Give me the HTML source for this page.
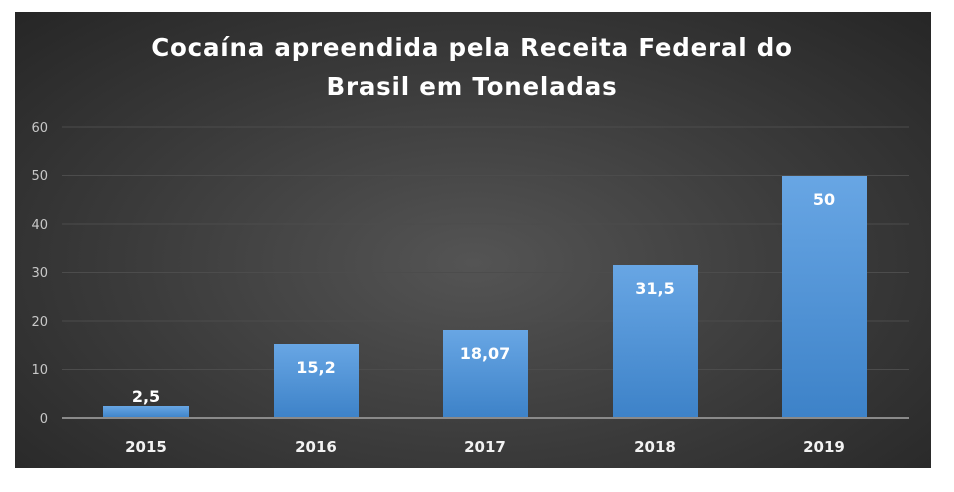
<!DOCTYPE html>
<html><head><style>
body{margin:0;background:#fff;width:954px;height:492px;position:relative;overflow:hidden;font-family:"DejaVu Sans","Liberation Sans",sans-serif}
#c{position:absolute;left:15px;top:12px;width:916px;height:456px;background:radial-gradient(ellipse at 50% 55%,#545454 0%,#3a3a3a 55%,#262626 100%)}
</style></head><body>
<div id="c"></div>
<svg width="954" height="492" style="position:absolute;left:0;top:0">
<defs><linearGradient id="g" x1="0" y1="0" x2="0" y2="1"><stop offset="0" stop-color="#68a6e4"/><stop offset="1" stop-color="#3d82c8"/></linearGradient></defs>
<g stroke="#4c4c4c" stroke-width="1">
<line x1="62" x2="909" y1="127" y2="127"/><line x1="62" x2="909" y1="175.5" y2="175.5"/><line x1="62" x2="909" y1="224" y2="224"/><line x1="62" x2="909" y1="272.5" y2="272.5"/><line x1="62" x2="909" y1="321" y2="321"/><line x1="62" x2="909" y1="369.5" y2="369.5"/>
</g>
<g fill="url(#g)">
<rect x="103" y="406" width="86" height="12"/>
<rect x="274" y="344" width="85" height="74"/>
<rect x="443" y="330" width="85" height="88"/>
<rect x="613" y="265" width="85" height="153"/>
<rect x="782" y="176" width="85" height="242"/>
</g>
<line x1="62" x2="909" y1="418" y2="418" stroke="#8a8a8a" stroke-width="2"/>
<g fill="#c8c8c8" font-size="13" text-anchor="end" font-family="DejaVu Sans,sans-serif">
<text x="48" y="132">60</text><text x="48" y="180">50</text><text x="48" y="229">40</text><text x="48" y="277">30</text><text x="48" y="326">20</text><text x="48" y="374">10</text><text x="48" y="423">0</text>
</g>
<g fill="#f2f2f2" font-size="15" font-weight="bold" text-anchor="middle">
<text x="146" y="452">2015</text><text x="316" y="452">2016</text><text x="485" y="452">2017</text><text x="655" y="452">2018</text><text x="824" y="452">2019</text>
</g>
<g fill="#fff" font-size="16" font-weight="bold" text-anchor="middle">
<text x="146" y="402">2,5</text><text x="316" y="373">15,2</text><text x="485" y="359">18,07</text><text x="655" y="294">31,5</text><text x="824" y="205">50</text>
</g>
<g fill="#fff" font-size="24.5" font-weight="bold" text-anchor="middle" letter-spacing="0.8">
<text x="472" y="56">Cocaína apreendida pela Receita Federal do</text>
<text x="472" y="95">Brasil em Toneladas</text>
</g>
</svg>
</body></html>
